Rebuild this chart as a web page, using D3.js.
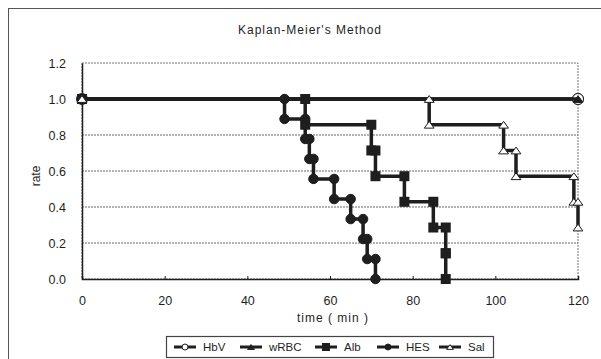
<!DOCTYPE html>
<html><head><meta charset="utf-8">
<script src="https://cdn.jsdelivr.net/npm/d3@7"></script>
<style>body{margin:0;background:#fff}svg{display:block;font-family:"Liberation Sans",Arial,sans-serif}</style>
</head><body><svg id="c" width="601" height="359"></svg>
<script>
// ---- data ----
const seriesNames = ["HbV","wRBC","Alb","HES","Sal"];
const hbvTimes = [0,120];             const hbvSurv = [1,1];
const wrbcTimes = [0,120];            const wrbcSurv = [1,1];
const albTimes = [0,54,70,71,78,85,88,88];
const albSurv  = [1,0.857,0.714,0.571,0.429,0.286,0.143,0];
const hesTimes = [0,49,54,55,56,61,65,68,69,71];
const hesSurv  = [1,0.889,0.778,0.667,0.556,0.444,0.333,0.222,0.111,0];
const salTimes = [0,84,102,105,119,120];
const salSurv  = [1,0.857,0.714,0.571,0.429,0.286];
const xTicks = [0,20,40,60,80,100,120];
const yTicks = [0,0.2,0.4,0.6,0.8,1.0,1.2];
const title = "Kaplan-Meier's Method";
const xTitle = "time ( min )";
const yTitle = "rate";

const markers = {HbV:"openCircle", wRBC:"filledTriangle", Alb:"square", HES:"circle", Sal:"openTriangle"};
const seriesData = {HbV:[hbvTimes,hbvSurv], wRBC:[wrbcTimes,wrbcSurv], Alb:[albTimes,albSurv], HES:[hesTimes,hesSurv], Sal:[salTimes,salSurv]};

function stepPoints(t,s){
  const pts=[[t[0],s[0]]];
  for(let i=1;i<t.length;i++){pts.push([t[i],s[i-1]]);pts.push([t[i],s[i]]);}
  return pts;
}

const svg = d3.select("#c");
const ink = "#1e1e1e";
// outer border
svg.append("rect").attr("x",8.5).attr("y",8.5).attr("width",600).attr("height",370)
  .attr("fill","#fff").attr("stroke","#555").attr("stroke-width",1);

const x = d3.scaleLinear().domain([0,120]).range([82,578]);
const y = d3.scaleLinear().domain([0,1.2]).range([279,63]);

// plot frame
svg.append("rect").attr("x",x(0)).attr("y",y(1.2)).attr("width",x(120)-x(0)).attr("height",y(0)-y(1.2))
  .attr("fill","#fff").attr("stroke","#777").attr("stroke-width",1).attr("stroke-dasharray","2,1");
// gridlines
svg.append("g").selectAll("line").data(yTicks.filter(v=>v>0&&v<1.2)).join("line")
  .attr("x1",x(0)).attr("x2",x(120)).attr("y1",d=>y(d)).attr("y2",d=>y(d))
  .attr("stroke","#666").attr("stroke-width",1).attr("stroke-dasharray","2,1");

// axes
const yAxis = svg.append("g").attr("transform",`translate(${x(0)},0)`)
  .call(d3.axisLeft(y).tickValues(yTicks).tickFormat(d3.format(".1f")).tickSize(0).tickPadding(16));
yAxis.select(".domain").attr("stroke",ink).attr("stroke-width",1.5);
yAxis.selectAll("text").attr("font-size",12.5).attr("fill",ink).attr("font-family","Liberation Sans,Arial");

const xAxis = svg.append("g").attr("transform",`translate(0,${y(0)})`)
  .call(d3.axisBottom(x).tickValues(xTicks).tickSize(-3).tickPadding(17));
xAxis.select(".domain").attr("stroke",ink).attr("stroke-width",1.5);
xAxis.selectAll("line").attr("stroke",ink);
xAxis.selectAll("text").attr("font-size",12.5).attr("fill",ink).attr("font-family","Liberation Sans,Arial");

// titles
svg.append("text").attr("x",310).attr("y",34).attr("text-anchor","middle").attr("font-size",12)
  .attr("letter-spacing",1).attr("fill",ink).text(title);
svg.append("text").attr("x",333).attr("y",322).attr("text-anchor","middle").attr("font-size",12)
  .attr("letter-spacing",1).attr("fill",ink).text(xTitle);
svg.append("text").attr("transform","translate(40,176) rotate(-90)").attr("text-anchor","middle")
  .attr("font-size",12).attr("fill",ink).text(yTitle);

function drawMarker(g,type,cx,cy,sz){
  if(type==="circle"||type==="openCircle"){
    g.append("circle").attr("cx",cx).attr("cy",cy).attr("r",sz/2)
      .attr("fill",type==="circle"?ink:"#fff").attr("stroke",ink).attr("stroke-width",1);
  } else if(type==="square"){
    g.append("rect").attr("x",cx-sz/2).attr("y",cy-sz/2).attr("width",sz).attr("height",sz).attr("fill",ink);
  } else {
    const h=sz*0.8, w=sz*1.15;
    g.append("path").attr("d",`M${cx},${cy-h/2}L${cx+w/2},${cy+h/2}L${cx-w/2},${cy+h/2}Z`)
      .attr("fill",type==="filledTriangle"?ink:"#fff").attr("stroke",ink).attr("stroke-width",1);
  }
}

const line = d3.line().x(d=>x(d[0])).y(d=>y(d[1]));
const sizes = {HbV:11, wRBC:8, Alb:10, HES:9.5, Sal:8.5};
seriesNames.forEach(name=>{
  const [t,s]=seriesData[name];
  const pts = stepPoints(t,s);
  const g = svg.append("g");
  g.append("path").datum(pts).attr("d",line).attr("fill","none").attr("stroke",ink)
    .attr("stroke-width",3.5).attr("stroke-linejoin","miter");
  pts.forEach(p=>drawMarker(g,markers[name],x(p[0]),y(p[1]),sizes[name]));
});

// legend
const lg = svg.append("g");
lg.append("rect").attr("x",166.5).attr("y",336.5).attr("width",327).attr("height",21)
  .attr("fill","#fff").attr("stroke","#444").attr("stroke-width",1.2);
const legX = [174,240,315,377,439];
seriesNames.forEach((name,i)=>{
  const lx=legX[i], ly=347;
  lg.append("line").attr("x1",lx).attr("x2",lx+22).attr("y1",ly).attr("y2",ly).attr("stroke",ink).attr("stroke-width",3);
  drawMarker(lg,markers[name],lx+11,ly,name==="Alb"?8:6);
  lg.append("text").attr("x",lx+29).attr("y",ly+4).attr("font-size",11.5).attr("fill",ink).text(name);
});
</script></body></html>
